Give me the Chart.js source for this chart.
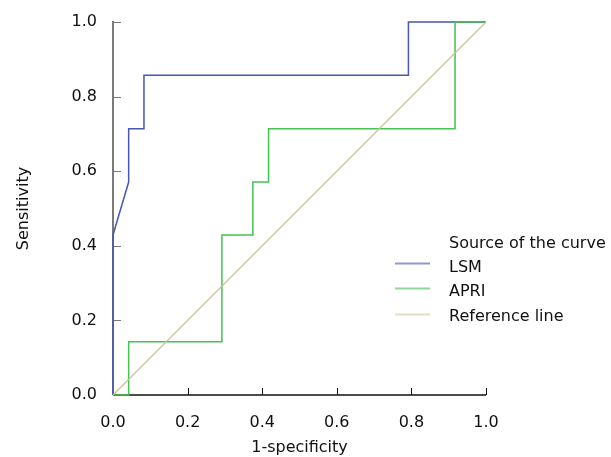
<!DOCTYPE html>
<html>
<head>
<meta charset="utf-8">
<script src="https://cdn.jsdelivr.net/npm/chart.js@4/dist/chart.umd.min.js"></script>
<style>
  html, body { margin: 0; padding: 0; background: #ffffff; }
  #wrap { width: 611px; height: 457px; }
</style>
</head>
<body>
<div id="wrap"><canvas id="c" width="611" height="457"></canvas></div>
<script>
// ---- data ----
const lsmFPR  = [0, 0, 0.042, 0.042, 0.083, 0.083, 0.792, 0.792, 1];
const lsmTPR  = [0, 0.429, 0.571, 0.714, 0.714, 0.857, 0.857, 1, 1];
const apriFPR = [0, 0.042, 0.042, 0.292, 0.292, 0.375, 0.375, 0.417, 0.417, 0.917, 0.917, 1];
const apriTPR = [0, 0, 0.143, 0.143, 0.429, 0.429, 0.571, 0.571, 0.714, 0.714, 1, 1];
const refFPR  = [0, 1];
const refTPR  = [0, 1];
const seriesNames = ['LSM', 'APRI', 'Reference line'];
const legendTitle = 'Source of the curve';
const tickValues = [0, 0.2, 0.4, 0.6, 0.8, 1.0];
const tickLabels = ['0.0', '0.2', '0.4', '0.6', '0.8', '1.0'];
const xTitle = '1-specificity';
const yTitle = 'Sensitivity';

const zip = (xs, ys) => xs.map((x, i) => ({ x: x, y: ys[i] }));

const colors = {
  lsm: '#4658b0', apri: '#45c250', ref: '#cdc28e',
  lsmLeg: '#8d9ad0', apriLeg: '#8fd89a', refLeg: '#e3dec2'
};

Chart.defaults.font.family = '"DejaVu Sans", Verdana, sans-serif';
Chart.defaults.font.size = 16;
Chart.defaults.color = '#111111';

const PL = 113, PT = 22, PR = 486, PB = 395;

const axesPlugin = {
  id: 'axesPlugin',
  beforeDatasetsDraw(chart) {
    const ctx = chart.ctx;
    const xs = chart.scales.x, ys = chart.scales.y;
    const x0 = xs.getPixelForValue(0), x1 = xs.getPixelForValue(1);
    const y0 = ys.getPixelForValue(0), y1 = ys.getPixelForValue(1);
    ctx.save();
    // y axis (grey)
    ctx.strokeStyle = '#7a7a7a';
    ctx.lineWidth = 2;
    ctx.beginPath();
    ctx.moveTo(x0, y0);
    ctx.lineTo(x0, y1 - 1);
    ctx.stroke();
    ctx.lineWidth = 1;
    tickValues.forEach(v => {
      const y = Math.round(ys.getPixelForValue(v)) + 0.5;
      ctx.beginPath();
      ctx.moveTo(x0, y);
      ctx.lineTo(x0 + 8, y);
      ctx.stroke();
    });
    // x axis (black)
    ctx.strokeStyle = '#111111';
    ctx.lineWidth = 1.5;
    ctx.beginPath();
    ctx.moveTo(x0, y0);
    ctx.lineTo(x1, y0);
    ctx.stroke();
    ctx.lineWidth = 1;
    tickValues.slice(1).forEach(v => {
      const x = Math.round(xs.getPixelForValue(v)) + 0.5;
      ctx.beginPath();
      ctx.moveTo(x, y0);
      ctx.lineTo(x, y0 - 7);
      ctx.stroke();
    });
    ctx.restore();
  },
  afterDraw(chart) {
    const ctx = chart.ctx;
    ctx.save();
    ctx.font = '16px "DejaVu Sans", Verdana, sans-serif';
    ctx.fillStyle = '#111111';
    ctx.textAlign = 'left';
    ctx.textBaseline = 'alphabetic';
    const tx = 449;
    ctx.fillText(legendTitle, tx, 247.5);
    const rows = [
      { name: seriesNames[0], c: colors.lsmLeg, ly: 263.5, ty: 271.5 },
      { name: seriesNames[1], c: colors.apriLeg, ly: 288.5, ty: 296 },
      { name: seriesNames[2], c: colors.refLeg, ly: 314.5, ty: 320.5 }
    ];
    rows.forEach(r => {
      ctx.strokeStyle = r.c;
      ctx.lineWidth = 2;
      ctx.beginPath();
      ctx.moveTo(395, r.ly);
      ctx.lineTo(430, r.ly);
      ctx.stroke();
      ctx.fillText(r.name, tx, r.ty);
    });
    ctx.restore();
  }
};

new Chart(document.getElementById('c'), {
  type: 'scatter',
  data: {
    datasets: [
      { label: seriesNames[0], data: zip(lsmFPR, lsmTPR), showLine: true, borderColor: colors.lsm,
        borderWidth: 1.5, pointRadius: 0, tension: 0, order: 2, clip: false },
      { label: seriesNames[1], data: zip(apriFPR, apriTPR), showLine: true, borderColor: colors.apri,
        borderWidth: 1.5, pointRadius: 0, tension: 0, order: 1, clip: false },
      { label: seriesNames[2], data: zip(refFPR, refTPR), showLine: true, borderColor: colors.ref,
        borderWidth: 1.2, pointRadius: 0, tension: 0, order: 0, clip: false }
    ]
  },
  options: {
    responsive: false,
    animation: false,
    devicePixelRatio: 1,
    layout: { padding: { left: 0, top: PT, right: 611 - PR, bottom: 0 } },
    plugins: { legend: { display: false }, tooltip: { enabled: false } },
    scales: {
      x: {
        type: 'linear', min: 0, max: 1,
        afterBuildTicks: s => { s.ticks = tickValues.map(v => ({ value: v })); },
        ticks: { callback: (v) => tickLabels[tickValues.findIndex(t => Math.abs(t - v) < 1e-9)], padding: 18, maxRotation: 0, autoSkip: false },
        grid: { display: false, drawTicks: false },
        border: { display: false },
        title: { display: true, text: xTitle, padding: { top: 0, bottom: 0 } },
        afterFit: s => { s.height = 457 - PB; s.paddingLeft = 0; s.paddingRight = 0; }
      },
      y: {
        type: 'linear', min: 0, max: 1,
        afterBuildTicks: s => { s.ticks = tickValues.map(v => ({ value: v })); },
        ticks: { callback: (v) => tickLabels[tickValues.findIndex(t => Math.abs(t - v) < 1e-9)], padding: 16, autoSkip: false },
        grid: { display: false, drawTicks: false },
        border: { display: false },
        title: { display: true, text: yTitle, padding: { top: 14, bottom: 0 } },
        afterFit: s => { s.width = PL; s.paddingTop = 0; s.paddingBottom = 0; }
      }
    }
  },
  plugins: [axesPlugin]
});
</script>
</body>
</html>
